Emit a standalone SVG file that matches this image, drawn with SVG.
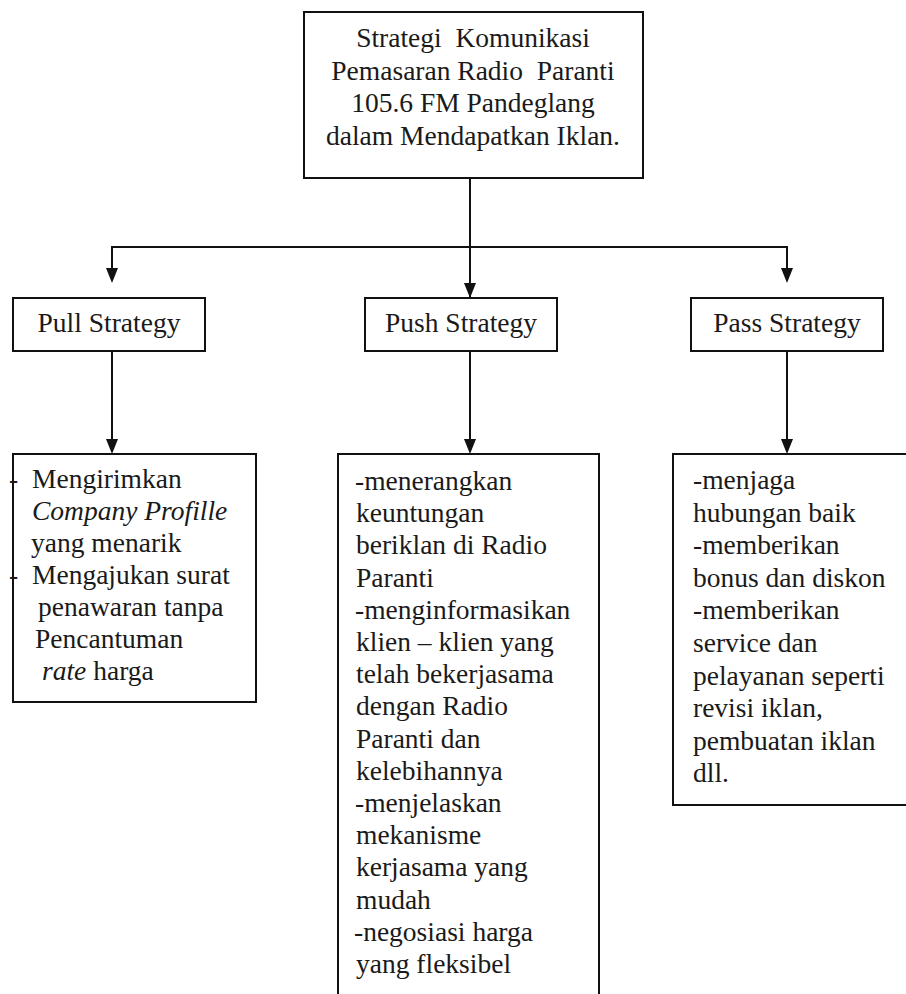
<svg xmlns="http://www.w3.org/2000/svg" width="906" height="994" viewBox="0 0 906 994" font-family="Liberation Serif, Times New Roman, Tinos, DejaVu Serif, serif">
<defs>
<style>
.box{fill:#fff;stroke:#111;stroke-width:2}
text{font-family:"Liberation Serif","Times New Roman",Times,"DejaVu Serif",serif;font-size:27.5px;fill:#1a1a1a}
.c{text-anchor:middle}
.i{font-style:italic}
.ln{stroke:#111;stroke-width:2;fill:none}
</style>
</defs>
<rect width="906" height="994" fill="#fff"/>

<g id="connectors">
<line class="ln" x1="470" y1="178" x2="470" y2="297"/>
<polygon points="464,283 476,283 470,298" fill="#111"/>
<polyline class="ln" points="112,269 112,247 787,247 787,269"/>
<polygon points="106,268 118,268 112,283" fill="#111"/>
<polygon points="781,268 793,268 787,283" fill="#111"/>
<line class="ln" x1="112" y1="351" x2="112" y2="440"/>
<polygon points="106,439 118,439 112,454" fill="#111"/>
<line class="ln" x1="470" y1="351" x2="470" y2="440"/>
<polygon points="464,439 476,439 470,454" fill="#111"/>
<line class="ln" x1="787" y1="351" x2="787" y2="440"/>
<polygon points="781,439 793,439 787,454" fill="#111"/>
</g>

<g id="node-main" font-family="Liberation Serif">
<rect class="box" x="304" y="12" width="339" height="166"/>
<text class="c" x="473" y="47" xml:space="preserve">Strategi  Komunikasi</text>
<text class="c" x="473" y="80" xml:space="preserve">Pemasaran Radio  Paranti</text>
<text class="c" x="473" y="112">105.6 FM Pandeglang</text>
<text class="c" x="473" y="145">dalam Mendapatkan Iklan.</text>
</g>

<g id="node-pull" font-family="Liberation Serif">
<rect class="box" x="13" y="298" width="192" height="53"/>
<text class="c" x="109" y="332">Pull Strategy</text>
</g>

<g id="node-push" font-family="Liberation Serif">
<rect class="box" x="365" y="298" width="192" height="53"/>
<text class="c" x="461" y="332">Push Strategy</text>
</g>

<g id="node-pass" font-family="Liberation Serif">
<rect class="box" x="691" y="298" width="192" height="53"/>
<text class="c" x="787" y="332">Pass Strategy</text>
</g>

<g id="node-pull-detail" font-family="Liberation Serif">
<rect class="box" x="13" y="454" width="243" height="248"/>
<text x="9" y="488">-</text>
<text x="32" y="488">Mengirimkan</text>
<text class="i" x="32" y="520">Company Profille</text>
<text x="31" y="552">yang menarik</text>
<text x="9" y="584">-</text>
<text x="32" y="584">Mengajukan surat</text>
<text x="38" y="616">penawaran tanpa</text>
<text x="35" y="648">Pencantuman</text>
<text x="42" y="680"><tspan class="i">rate</tspan> harga</text>
</g>

<g id="node-push-detail" font-family="Liberation Serif">
<path class="box" d="M338,1000 L338,454 L599,454 L599,1000"/>
<text x="355" y="490">-menerangkan</text>
<text x="356" y="522.2">keuntungan</text>
<text x="356" y="554.4">beriklan di Radio</text>
<text x="356" y="586.6">Paranti</text>
<text x="355" y="618.8">-menginformasikan</text>
<text x="356" y="651">klien – klien yang</text>
<text x="356" y="683.2">telah bekerjasama</text>
<text x="356" y="715.4">dengan Radio</text>
<text x="356" y="747.6">Paranti dan</text>
<text x="356" y="779.8">kelebihannya</text>
<text x="355" y="812">-menjelaskan</text>
<text x="356" y="844.2">mekanisme</text>
<text x="356" y="876.4">kerjasama yang</text>
<text x="356" y="908.6">mudah</text>
<text x="354" y="940.8">-negosiasi harga</text>
<text x="356" y="973">yang fleksibel</text>
</g>

<g id="node-pass-detail" font-family="Liberation Serif">
<rect class="box" x="673" y="454" width="240" height="351"/>
<text x="693" y="489">-menjaga</text>
<text x="693" y="521.6">hubungan baik</text>
<text x="693" y="554.2">-memberikan</text>
<text x="693" y="586.8">bonus dan diskon</text>
<text x="693" y="619.4">-memberikan</text>
<text x="693" y="652">service dan</text>
<text x="693" y="684.6">pelayanan seperti</text>
<text x="693" y="717.2">revisi iklan,</text>
<text x="693" y="749.8">pembuatan iklan</text>
<text x="693" y="782.4">dll.</text>
</g>
</svg>
